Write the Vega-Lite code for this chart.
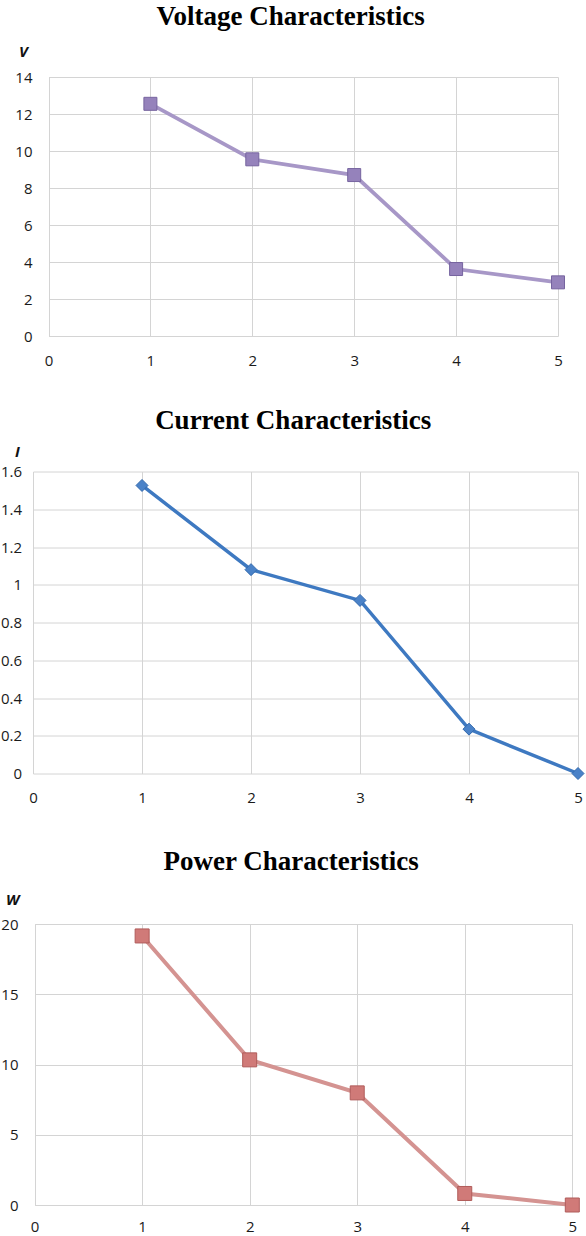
{
  "$schema": "https://vega.github.io/schema/vega-lite/v6.json",
  "padding": {"left": 0, "top": 3, "right": 4, "bottom": 0},
  "background": "white",
  "config": {
    "view": {"stroke": null},
    "axis": {"grid": true, "gridColor": "#d4d4d4", "gridWidth": 1, "domain": false, "ticks": false, "labelFont": "Open Sans", "labelFontSize": 15, "labelColor": "#1a1a1a", "labelFlush": false, "titleFont": "Open Sans", "titleColor": "#111111"},
    "title": {"font": "Liberation Serif", "fontSize": 27, "fontWeight": "bold", "color": "#000000", "anchor": "middle", "frame": "bounds"},
    "concat": {"spacing": 38.5}
  },
  "vconcat": [
    {
      "width": 525, "height": 259,
      "title": {"text": "Voltage Characteristics", "offset": 13},
      "data": {"values": [
        {"x": 1, "v": 12.55}, {"x": 2, "v": 9.55}, {"x": 3, "v": 8.7}, {"x": 4, "v": 3.62}, {"x": 5, "v": 2.9}
      ]},
      "encoding": {
        "x": {"field": "x", "type": "quantitative", "scale": {"domain": [0, 5], "range": [15.5, 525]}, "axis": {"values": [0, 1, 2, 3, 4, 5], "title": null, "labelPadding": 17}},
        "y": {"field": "v", "type": "quantitative", "scale": {"domain": [0, 14]}, "axis": {"values": [0, 2, 4, 6, 8, 10, 12, 14], "title": "V", "titleAngle": 0, "titleX": -10, "titleY": -26, "titleAlign": "center", "titleBaseline": "middle", "titleFontStyle": "italic", "titleFontWeight": "bold", "titleFontSize": 15, "labelPadding": 1}}
      },
      "layer": [
        {"mark": {"type": "line", "color": "#a797c7", "strokeWidth": 3.8}},
        {"mark": {"type": "point", "shape": "square", "filled": true, "size": 169, "color": "#9582bb", "stroke": "#76649f", "strokeWidth": 1, "opacity": 1}}
      ]
    },
    {
      "width": 545, "height": 302,
      "title": {"text": "Current Characteristics", "offset": 9.5},
      "data": {"values": [
        {"x": 1, "i": 1.526}, {"x": 2, "i": 1.08}, {"x": 3, "i": 0.917}, {"x": 4, "i": 0.235}, {"x": 5, "i": 0.0}
      ]},
      "encoding": {
        "x": {"field": "x", "type": "quantitative", "scale": {"domain": [0, 5]}, "axis": {"values": [0, 1, 2, 3, 4, 5], "title": " ", "titleFontSize": 4, "titlePadding": 0, "labelPadding": 17}},
        "y": {"field": "i", "type": "quantitative", "scale": {"domain": [0, 1.6]}, "axis": {"values": [0, 0.2, 0.4, 0.6, 0.8, 1, 1.2, 1.4, 1.6], "format": "~g", "title": "I", "titleAngle": 0, "titleX": -16, "titleY": -20, "titleAlign": "center", "titleBaseline": "middle", "titleFontStyle": "italic", "titleFontWeight": "bold", "titleFontSize": 15, "labelPadding": 11.5}}
      },
      "layer": [
        {"mark": {"type": "line", "color": "#3e79c1", "strokeWidth": 3.5}},
        {"mark": {"type": "point", "shape": "diamond", "filled": true, "size": 144, "color": "#4a82c8", "stroke": "#336aae", "strokeWidth": 1, "opacity": 1}}
      ]
    },
    {
      "width": 540, "height": 281,
      "title": {"text": "Power Characteristics", "offset": 16},
      "data": {"values": [
        {"x": 1, "w": 19.15}, {"x": 2, "w": 10.33}, {"x": 3, "w": 7.98}, {"x": 4, "w": 0.82}, {"x": 5, "w": 0.0}
      ]},
      "encoding": {
        "x": {"field": "x", "type": "quantitative", "scale": {"domain": [0, 5], "range": [1.6, 539.3]}, "axis": {"values": [0, 1, 2, 3, 4, 5], "title": null, "labelPadding": 14.5}},
        "y": {"field": "w", "type": "quantitative", "scale": {"domain": [0, 20]}, "axis": {"values": [0, 5, 10, 15, 20], "title": "W", "titleAngle": 0, "titleX": -20.7, "titleY": -25, "titleAlign": "center", "titleBaseline": "middle", "titleFontStyle": "italic", "titleFontWeight": "bold", "titleFontSize": 15, "labelPadding": 15}}
      },
      "layer": [
        {"mark": {"type": "line", "color": "#d49391", "strokeWidth": 4}},
        {"mark": {"type": "point", "shape": "square", "filled": true, "size": 196, "color": "#d07a78", "stroke": "#b05c5a", "strokeWidth": 1, "opacity": 1}}
      ]
    }
  ]
}
